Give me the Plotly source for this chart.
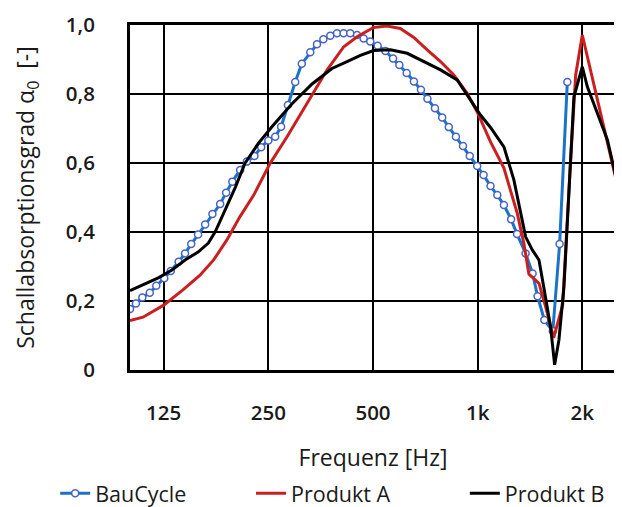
import plotly.graph_objects as go

# Frequenz [Hz] und Schallabsorptionsgrad
bau_f = [100, 104, 108.5, 114, 119, 125.5, 131, 138, 144, 150,
         157, 164.5, 172.6, 181.7, 189, 197, 207.4, 216.9, 228, 238.4,
         250, 261.6, 272, 284.6, 298.7, 312, 330, 345, 360, 376.8,
         394, 411.5, 430, 450, 470, 491, 515.7, 542.7, 571, 595.5,
         625, 655.6, 686.8, 717, 753.7, 790.6, 826, 866, 907.5, 949,
         997, 1040, 1089, 1139, 1190, 1248, 1298, 1374, 1439, 1487,
         1555, 1645, 1721, 1811]
bau_a = [0.177, 0.193, 0.210, 0.224, 0.244, 0.266, 0.287, 0.314, 0.338, 0.365,
         0.393, 0.422, 0.452, 0.481, 0.514, 0.546, 0.580, 0.604, 0.620, 0.646,
         0.665, 0.676, 0.705, 0.768, 0.835, 0.888, 0.921, 0.944, 0.959, 0.969,
         0.976, 0.976, 0.976, 0.971, 0.961, 0.952, 0.940, 0.925, 0.903, 0.884,
         0.861, 0.836, 0.812, 0.786, 0.759, 0.732, 0.704, 0.676, 0.649, 0.620,
         0.591, 0.565, 0.533, 0.507, 0.478, 0.437, 0.394, 0.338, 0.280, 0.214,
         0.145, 0.113, 0.365, 0.835]

a_f = [100, 109, 125, 142, 159, 174, 190, 207, 227, 253,
       283, 323, 369, 412, 450, 502, 549, 599, 655, 716,
       782, 854, 933, 997, 1089, 1190, 1243, 1300, 1358, 1404,
       1501, 1569, 1654, 1756, 1851, 1914, 2000, 2090, 2259, 2500]
a_a = [0.143, 0.153, 0.188, 0.232, 0.275, 0.319, 0.377, 0.444, 0.507, 0.599,
       0.676, 0.773, 0.870, 0.937, 0.966, 0.993, 0.997, 0.990, 0.964, 0.928,
       0.894, 0.855, 0.802, 0.748, 0.661, 0.585, 0.522, 0.454, 0.367, 0.278,
       0.251, 0.183, 0.093, 0.188, 0.609, 0.855, 0.971, 0.889, 0.744, 0.553]

b_f = [100, 110, 121, 132, 144, 157, 168, 176, 184, 192,
       201, 214, 234, 256, 292, 334, 381, 421, 460, 502,
       561, 627, 700, 782, 873, 954, 1019, 1089, 1190, 1271,
       1314, 1374, 1436, 1501, 1551, 1621, 1665, 1713, 1771, 1831,
       1892, 2000, 2068, 2210, 2362, 2500]
b_a = [0.230, 0.248, 0.268, 0.290, 0.319, 0.342, 0.368, 0.401, 0.444, 0.483,
       0.530, 0.599, 0.657, 0.705, 0.771, 0.829, 0.874, 0.894, 0.912, 0.926,
       0.928, 0.918, 0.893, 0.870, 0.841, 0.783, 0.739, 0.703, 0.647, 0.551,
       0.481, 0.386, 0.348, 0.319, 0.238, 0.125, 0.015, 0.087, 0.241, 0.531,
       0.792, 0.879, 0.821, 0.744, 0.667, 0.559]

x_ticks = [125, 250, 500, 1000, 2000]
x_labels = ['125', '250', '500', '1k', '2k']
y_ticks = [0, 0.2, 0.4, 0.6, 0.8, 1.0]
y_labels = ['0', '0,2', '0,4', '0,6', '0,8', '1,0']

font = 'Open Sans'
tickfont = dict(family=font, size=20.5, color='#1a1a1a', weight=600)

fig = go.Figure()

fig.add_trace(go.Scatter(
    x=bau_f, y=bau_a, mode='lines+markers', name='BauCycle',
    line=dict(color='#1a73c9', width=3),
    marker=dict(symbol='circle', size=7, color='white',
                line=dict(color='#4563c4', width=1.5)),
    legend='legend',
))
fig.add_trace(go.Scatter(
    x=a_f, y=a_a, mode='lines', name='Produkt A',
    line=dict(color='#c9201f', width=3),
    legend='legend2',
))
fig.add_trace(go.Scatter(
    x=b_f, y=b_a, mode='lines', name='Produkt B',
    line=dict(color='black', width=3),
    legend='legend3',
))

# one legend per entry so the entries sit where the original has them
leg = dict(orientation='h', y=-0.357, xanchor='left', yanchor='middle',
           font=dict(size=21.5, weight=500), itemwidth=30)

# the page body adds 8px around the figure, margins make up for it
fig.update_layout(
    width=622, height=507,
    margin=dict(l=122, r=14, t=17, b=145, autoexpand=False),
    plot_bgcolor='white',
    paper_bgcolor='white',
    font=dict(family=font, size=19.5, color='#1a1a1a', weight=500),
    xaxis=dict(
        type='log',
        range=[2, 3.39794],
        tickvals=x_ticks, ticktext=x_labels, tickfont=tickfont,
        showgrid=True, gridcolor='black', gridwidth=2,
        showline=True, linecolor='black', linewidth=3, mirror=True,
        zeroline=False, automargin=False,
        ticks='', ticklabelstandoff=22,
        title=dict(text='Frequenz [Hz]', standoff=26),
    ),
    yaxis=dict(
        range=[0, 1],
        tickvals=y_ticks, ticktext=y_labels, tickfont=tickfont,
        showgrid=True, gridcolor='black', gridwidth=2,
        showline=True, linecolor='black', linewidth=3, mirror=True,
        zeroline=False, automargin=False,
        ticks='', ticklabelstandoff=28,
        title=dict(text='Schallabsorptionsgrad α<sub>0</sub>  [-]', standoff=25),
    ),
    showlegend=True,
    legend=dict(leg, x=-0.154),
    legend2=dict(leg, x=0.249),
    legend3=dict(leg, x=0.689),
)

fig.write_html("out.html")
